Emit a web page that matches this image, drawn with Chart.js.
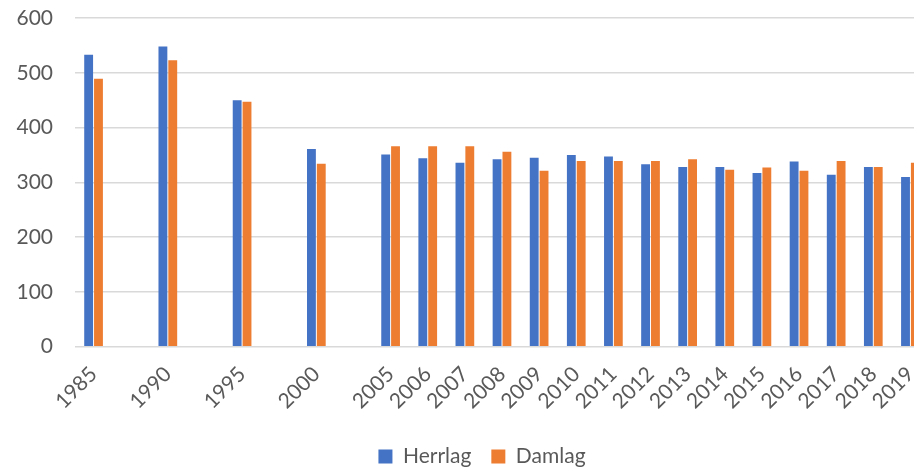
<!DOCTYPE html>
<html>
<head>
<meta charset="utf-8">
<script src="https://cdn.jsdelivr.net/npm/chart.js@4"></script>
<style>
  html, body { margin: 0; padding: 0; background: #fff; overflow: hidden; }
  #wrap { width: 964px; height: 468px; }
</style>
</head>
<body>
<div id="wrap"><canvas id="chart" width="964" height="468"></canvas></div>
<script>
// blank slots keep the 5-year gaps twice as wide as single years
const years = ['1985', '', '1990', '', '1995', '', '2000', '',
  '2005', '2006', '2007', '2008', '2009', '2010', '2011', '2012',
  '2013', '2014', '2015', '2016', '2017', '2018', '2019'];
const herrlag = [533, null, 548, null, 450, null, 361, null,
  351, 344, 336, 342, 345, 350, 347, 333, 328, 328, 317, 338, 314, 328, 310];
const damlag = [489, null, 523, null, 447, null, 334, null,
  366, 366, 366, 356, 321, 339, 339, 339, 342, 323, 327, 321, 339, 328, 336];
const yTicks = [0, 100, 200, 300, 400, 500, 600];

const textColor = '#595959';
const font = { family: 'Lato', size: 21 };

// the original chart is cut off on the right, so nudge the legend to its centre
const shiftLegend = {
    id: 'shiftLegend',
    afterLayout(chart) {
        chart.legend.left += 9.5;
        chart.legend.right += 9.5;
    }
};

new Chart(document.getElementById('chart'), {
    type: 'bar',
    data: {
        labels: years,
        datasets: [
            { label: 'Herrlag', data: herrlag, backgroundColor: '#4472C4' },
            { label: 'Damlag', data: damlag, backgroundColor: '#ED7D31' }
        ]
    },
    options: {
        responsive: false,
        animation: false,
        layout: { padding: { left: 16, right: 35, top: 18, bottom: -9 } },
        datasets: { bar: { categoryPercentage: 0.53, barPercentage: 0.9 } },
        scales: {
            x: {
                grid: { display: false },
                border: { display: false },
                ticks: {
                    color: textColor, font: font,
                    minRotation: 45, maxRotation: 45,
                    autoSkip: false, padding: 7
                },
                afterFit: s => { s.paddingLeft = 0; s.paddingRight = 0; s.height += 5; }
            },
            y: {
                min: 0, max: 600,
                afterBuildTicks: axis => { axis.ticks = yTicks.map(v => ({ value: v })); },
                grid: { color: '#d9d9d9', lineWidth: 1.5, drawTicks: false },
                border: { display: false },
                ticks: { color: textColor, font: font, padding: 22 },
                afterFit: s => { s.width = 59; s.paddingTop = 0; s.paddingBottom = 0; }
            }
        },
        plugins: {
            legend: {
                position: 'bottom',
                labels: {
                    color: textColor, font: font,
                    boxWidth: 14, boxHeight: 14, padding: 20
                }
            },
            tooltip: { enabled: false }
        }
    },
    plugins: [shiftLegend]
});
</script>
</body>
</html>
